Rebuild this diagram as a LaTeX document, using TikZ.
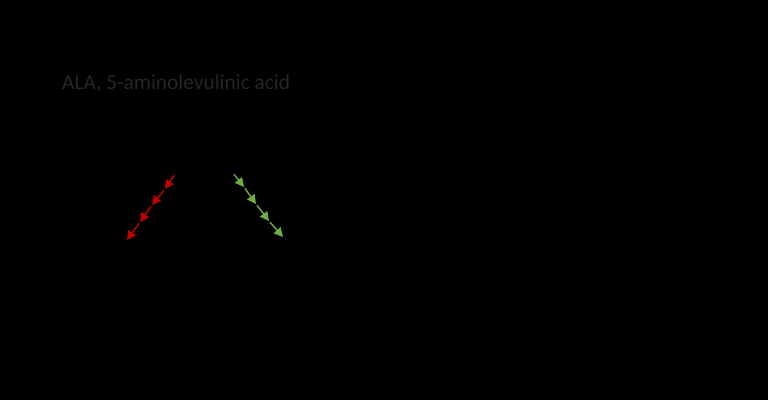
\documentclass[tikz,border=0pt]{standalone}
\usepackage{fontspec}
\setmainfont{Carlito}
\usetikzlibrary{arrows.meta}
\definecolor{labelgray}{HTML}{262626}
\definecolor{redarrow}{HTML}{C00000}
\definecolor{greenarrow}{HTML}{70AD47}
\begin{document}
\begin{tikzpicture}[x=1pt,y=-1pt]
		\tikzstyle{every node}+=[inner sep=0pt]
		\tikzstyle{steparrow}=[line width=1.4pt, shorten <=1.5pt, -{Triangle[length=9pt,width=9pt]}]
		\fill [black] (0,0) rectangle (768,400);
		\useasboundingbox (0,0) rectangle (768,400);
		\node (abbrev) [anchor=base west, text=labelgray, font=\fontsize{21.4}{24}\selectfont] at (62,89) {ALA, 5-aminolevulinic acid};
		% red chain
		\coordinate (r0) at (175,174);
		\coordinate (r1) at (165,189);
		\coordinate (r2) at (152,205);
		\coordinate (r3) at (140,222);
		\coordinate (r4) at (127,240);
		% green chain
		\coordinate (g0) at (233,173);
		\coordinate (g1) at (244,187);
		\coordinate (g2) at (256,204);
		\coordinate (g3) at (269,221);
		\coordinate (g4) at (283,237);
		\foreach \i/\j in {0/1,1/2,2/3,3/4} {
			\draw [steparrow, redarrow] (r\i) -- (r\j);
			\draw [steparrow, greenarrow] (g\i) -- (g\j);
		}
\end{tikzpicture}
\end{document}
